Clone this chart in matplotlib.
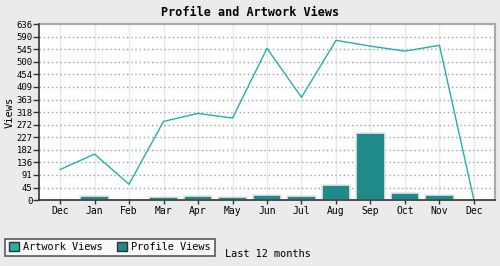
import numpy as np
import matplotlib.pyplot as plt
from matplotlib.patches import Patch

# ----------------------------
# DATA
# ----------------------------
months = ["Dec", "Jan", "Feb", "Mar", "Apr", "May", "Jun",
          "Jul", "Aug", "Sep", "Oct", "Nov", "Dec"]
artwork_views = [110, 166, 57, 284, 313, 296, 548, 371, 577, 556, 538, 559, 0]
profile_views = [0, 16, 0, 12, 16, 12, 19, 16, 55, 243, 26, 19, 0]
y_ticks = [0, 45, 91, 136, 182, 227, 272, 318, 363, 409, 454, 500, 545, 590, 636]

LINE_COL = "#25b0aa"
BAR_COL = "#1e8a8a"
BG = "#ebebeb"

plt.rcParams['font.family'] = ['DejaVu Sans Mono']

# ----------------------------
# PLOT
# ----------------------------
fig = plt.figure(figsize=(5, 2.66), dpi=100, facecolor=BG)
ax = fig.add_axes([39/500, 1 - 200/266, 456/500, 176/266])
ax.set_facecolor("white")

x = np.arange(len(months))
ax.bar(x, profile_views, width=0.82, color=BAR_COL, edgecolor="#e6e6e6",
       linewidth=1.2, zorder=3)
ax.plot(x, artwork_views, color=LINE_COL, linewidth=1.0, zorder=4)

ax.set_xlim(-0.61, 12.61)
ax.set_ylim(0, 636)
ax.set_xticks(x)
ax.set_xticklabels(months, fontsize=7)
ax.set_yticks(y_ticks)
ax.set_yticklabels([str(v) for v in y_ticks], fontsize=6.4)
ax.tick_params(axis="y", length=4, width=1, pad=0.5, color="#333333")
ax.tick_params(axis="x", length=3, width=1, pad=1, color="#333333")

ax.grid(axis="y", linestyle=(0, (1, 2)), color="#a0a0a0", linewidth=1, zorder=1)
ax.grid(axis="x", linestyle="-", color="#e8e8e8", linewidth=1, zorder=1)

for side in ["top", "right"]:
    ax.spines[side].set_color("#aaaaaa")
    ax.spines[side].set_linewidth(1.5)
for side in ["left", "bottom"]:
    ax.spines[side].set_color("#333333")
    ax.spines[side].set_linewidth(1.2)
    ax.spines[side].set_zorder(5)

ax.set_ylabel("Views", fontsize=7.5)
ax.yaxis.set_label_coords(-24.5/456, 0.5)
fig.text(0.5, 1 - 12/266, "Profile and Artwork Views", ha="center", va="center",
         fontsize=8.5, fontweight="bold")

leg_handles = [Patch(facecolor=LINE_COL, edgecolor="#333333", linewidth=1),
               Patch(facecolor=BAR_COL, edgecolor="#333333", linewidth=1)]
leg = fig.legend(leg_handles, ["Artwork Views", "Profile Views"],
                 loc="lower left", bbox_to_anchor=(5/500, 1 - 256/266),
                 ncol=2, fontsize=7.4, frameon=True, fancybox=False,
                 handlelength=1.0, handleheight=1.0, handletextpad=0.4,
                 columnspacing=1.4, borderpad=0.35, borderaxespad=0)
leg.get_frame().set_edgecolor("#333333")
leg.get_frame().set_linewidth(1.2)

fig.text(225/500, 1 - 254/266, "Last 12 months", ha="left", va="center", fontsize=7.4)

plt.savefig("out.png", dpi=100, facecolor=BG)
